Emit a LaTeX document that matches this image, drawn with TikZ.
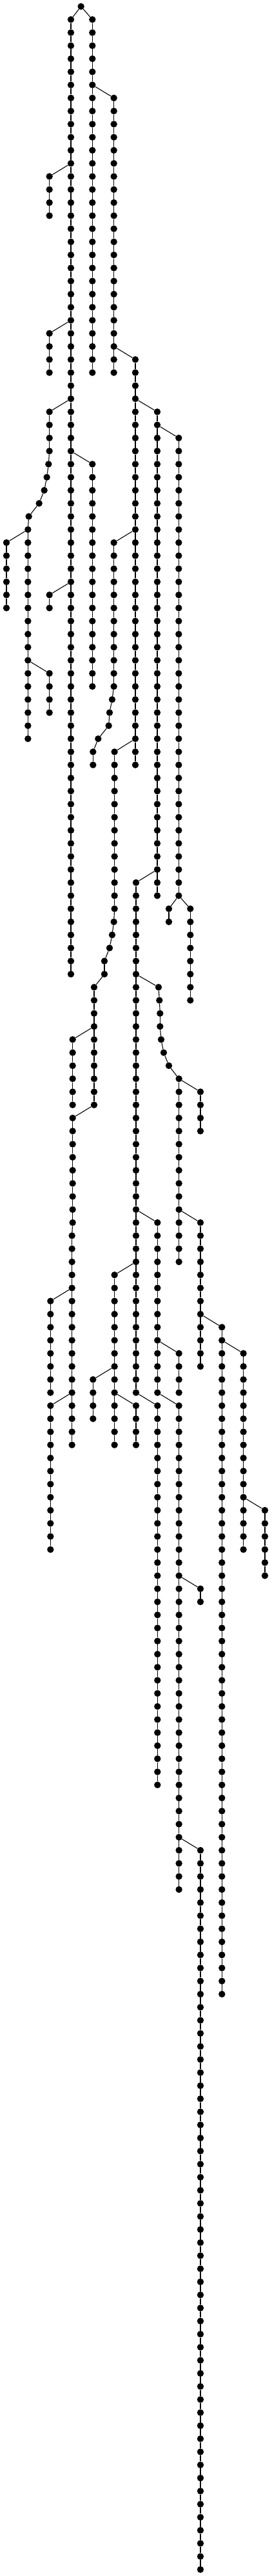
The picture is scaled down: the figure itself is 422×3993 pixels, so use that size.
\documentclass[tikz,border=0pt]{standalone}
\usetikzlibrary{arrows.meta}

\begin{document}
\begin{tikzpicture}[
    x=33.33pt, y=-20.27pt,
    % Tree vertex style
    dotnode/.style={circle, fill=black, draw=none, minimum size=10.4pt, inner sep=0pt},
    % Parent-child connector style
    link/.style={black, line width=1.1pt}
]

    % === FRAME ===
    \useasboundingbox (-10pt,10pt) rectangle (412pt,-3983pt);

    % === ROOT ===
    \node[dotnode] (root) at (3.47,0) {};

    % === STRAIGHT RUNS (chain/first/last/column) ===
    \foreach \ch/\lo/\hi/\col in {
        a/1/74/3, b/1/28/4, c/13/16/2, d/7/28/5, e/25/28/2, f/27/58/6,
        g/31/68/7.02, h/33/68/8.02, i/31/34/2, i/40/56/1, j/41/46/0,
        k/51/54/2, l/35/52/4, m/45/46/2, n/41/52/5, o/57/69/5.03,
        o/75/84/4.08, p/79/84/3.08, t/85/93/3.08, t/94/110/3.05,
        q/67/106/6.03, ra/69/70/7.56, rb/69/76/8.56, s/82/96/8.03,
        w/83/86/9.03, u/93/106/7.03, x/93/104/9.03, v/97/110/5.03,
        y/99/106/2.05, z/107/118/2.05, aa/105/108/4.03, ab/107/110/6.03,
        ac/107/136/7.03, ad/103/106/8.03, ae/107/144/8.03,
        af/101/152/10.03, ag/103/118/11.03, ah/115/120/12.03,
        ai/121/122/9.03, aj/141/196/9.03} {
        \foreach \l in {\lo,...,\hi} {
            \node[dotnode] (\ch-\l) at (\col,\l) {};
        }
    }

    % === BENT RUNS (chain/level/column) ===
    \foreach \ch/\l/\col in {
        i/35/1.96, i/36/1.88, i/37/1.76, i/38/1.52, i/39/1.04,
        n/53/4.92, n/54/4.8, n/55/4.76, n/56/4.27, n/57/4.03, n/58/4.03,
        o/70/5, o/71/4.92, o/72/4.8, o/73/4.56, o/74/4.56,
        s/75/7.08, s/76/7.12, s/77/7.15, s/78/7.15, s/79/7.2,
        s/80/7.32, s/81/7.56} {
        \node[dotnode] (\ch-\l) at (\col,\l) {};
    }

    % === CONNECTORS (chain/parent/first/last) ===
    \foreach \ch/\up/\lo/\hi in {
        a/root/1/74, b/root/1/28, c/a-12/13/16, d/b-6/7/28, e/a-24/25/28,
        f/d-26/27/58, g/f-30/31/68, h/g-32/33/68, i/a-30/31/56,
        j/i-40/41/46, k/i-50/51/54, l/a-34/35/52, m/a-44/45/46,
        n/f-40/41/58, o/f-56/57/84, p/o-78/79/84, t/o-84/85/110,
        q/g-66/67/106, ra/h-68/69/70, rb/h-68/69/76, s/q-74/75/96,
        w/s-82/83/86, u/q-92/93/106, x/s-92/93/104, v/q-96/97/110,
        y/t-98/99/106, z/t-106/107/118, aa/v-104/105/108, ab/v-106/107/110,
        ac/q-106/107/136, ad/u-102/103/106, ae/u-106/107/144,
        af/x-100/101/152, ag/af-102/103/118, ah/ag-114/115/120,
        ai/ae-120/121/122, aj/ae-140/141/196} {
        \draw[link] (\up) -- (\ch-\lo);
        \pgfmathtruncatemacro\nxt{\lo+1}
        \foreach \l in {\nxt,...,\hi} {
            \pgfmathtruncatemacro\prv{\l-1}
            \draw[link] (\ch-\prv) -- (\ch-\l);
        }
    }

\end{tikzpicture}
\end{document}
